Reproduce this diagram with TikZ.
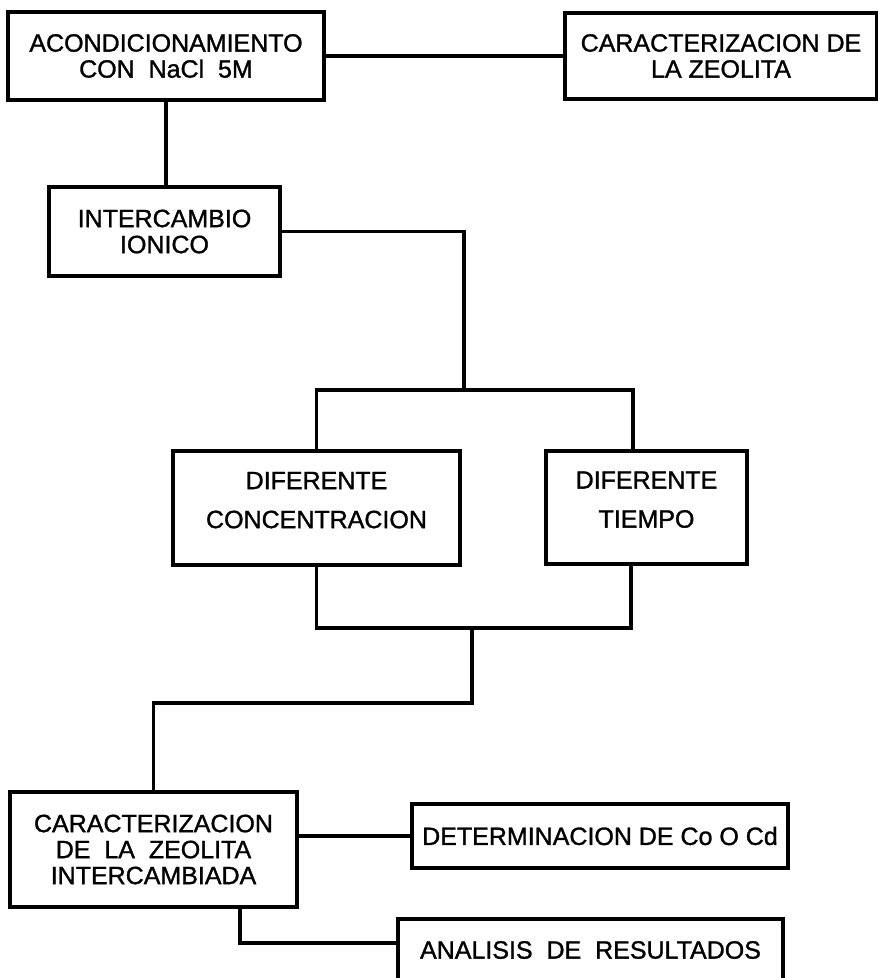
\documentclass[tikz,border=0pt]{standalone}
\usepackage{fontspec}
\setmainfont{Liberation Sans}[FakeBold=1.2]
\begin{document}
\begin{tikzpicture}[x=1pt,y=-1pt,
  box/.style={draw, line width=3.2pt, rectangle, inner sep=0pt, align=center,
              font=\fontsize{25}{26}\selectfont},
  link/.style={line width=3.2pt},
  tallbox/.style={box, font=\fontsize{25}{39}\selectfont}]
\useasboundingbox (0,0) rectangle (878,978);
\fill[white] (0,0) rectangle (878,978);
\clip (0,0) rectangle (878,978);

\node[box, minimum width=316pt, minimum height=88pt] (A) at (166,56)
  {ACONDICIONAMIENTO\\CON\ \ NaCl\ \ 5M};
\node[box, minimum width=312pt, minimum height=86pt] (B) at (721,56)
  {CARACTERIZACION DE\\LA ZEOLITA};
\node[box, minimum width=231pt, minimum height=89pt] (C) at (164.5,231.5)
  {INTERCAMBIO\\IONICO};
\node[tallbox, minimum width=287pt, minimum height=114pt] (D) at (316.5,508)
  {DIFERENTE\\CONCENTRACION\rule[-16pt]{0pt}{16pt}};
\node[tallbox, minimum width=201pt, minimum height=113pt] (E) at (646.5,507.5)
  {DIFERENTE\\TIEMPO\rule[-16pt]{0pt}{16pt}};
\node[box, minimum width=287pt, minimum height=115pt] (F) at (153.5,849.5)
  {CARACTERIZACION\\DE\ \ LA\ \ ZEOLITA\\INTERCAMBIADA};
\node[box, minimum width=376pt, minimum height=64pt] (DET) at (600,836)
  {DETERMINACION DE Co O Cd};
\node[box, minimum width=385pt, minimum height=62pt] (G) at (590.5,950)
  {ANALISIS\ \ DE\ \ RESULTADOS};

\coordinate (j1) at (464,390);
\coordinate (ex) at (633,0);
\coordinate (j2) at (472,628);
\coordinate (ex2) at (631,0);
\coordinate (j3) at (472,703);
\coordinate (fx) at (240,0);

\draw[link] (A.east) -- (B.west);
\draw[link] (A.south) -- (A.south |- C.north);
\draw[link] (C.east) -| (j1);
\draw[link] (D.north) |- (j1) -| (E.north -| ex);
\draw[link] (D.south) |- (j2) -| (E.south -| ex2);
\draw[link] (j2) -- (j3) -| (F.north);
\draw[link] (F.east |- DET.west) -- (DET.west);
\draw[link] (F.south -| fx) |- ([yshift=7pt]G.west);
\end{tikzpicture}
\end{document}
